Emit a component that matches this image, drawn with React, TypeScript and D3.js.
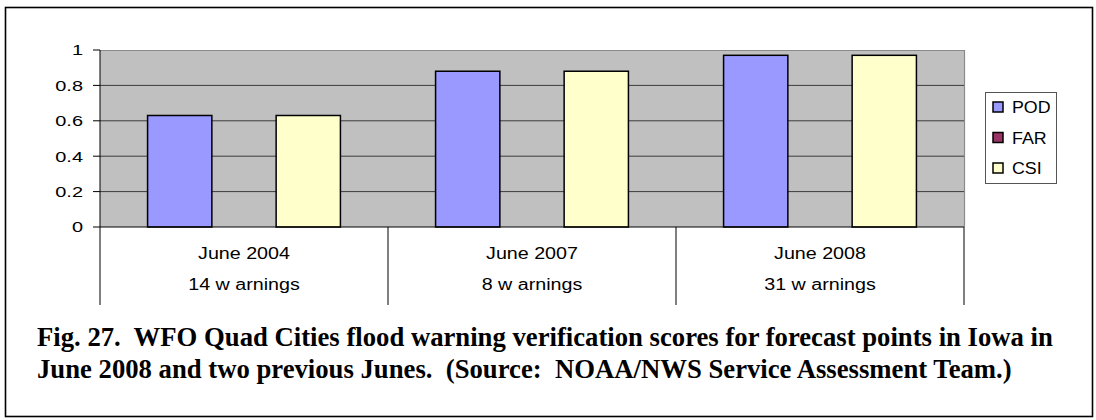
import React from "react";
import * as d3 from "d3";

const categories = ["June 2004", "June 2007", "June 2008"];
const warningLabels = ["14 w arnings", "8 w arnings", "31 w arnings"];
const seriesNames = ["POD", "FAR", "CSI"];
const podValues = [0.63, 0.88, 0.97];
const farValues = [0, 0, 0];
const csiValues = [0.63, 0.88, 0.97];
const yTicks = [0, 0.2, 0.4, 0.6, 0.8, 1];
const seriesColors = ["#9999ff", "#993366", "#ffffcc"];
const captionLines = [
  "Fig. 27.  WFO Quad Cities flood warning verification scores for forecast points in Iowa in",
  "June 2008 and two previous Junes.  (Source:  NOAA/NWS Service Assessment Team.)",
];

const W = 1096;
const H = 420;
const plot = { left: 100, right: 964, top: 50, bottom: 227 };

export default function App() {
  const x0 = d3
    .scaleBand<string>()
    .domain(categories)
    .range([plot.left, plot.right])
    .paddingInner(0)
    .paddingOuter(0);
  const x1 = d3
    .scaleBand<string>()
    .domain(seriesNames)
    .range([0, x0.bandwidth()])
    .paddingInner(0)
    .paddingOuter(0.74);
  const y = d3.scaleLinear().domain([0, 1]).range([plot.bottom, plot.top]);
  const seriesValues = [podValues, farValues, csiValues];

  const sans = "'Liberation Sans', Arial, sans-serif";
  const serif = "'Liberation Serif', 'Times New Roman', serif";

  return (
    <svg
      width={W}
      height={H}
      style={{ position: "absolute", left: 0, top: 0, display: "block" }}
    >
      <rect x={0} y={0} width={W} height={H} fill="#fff" />
      <rect
        x={5.5}
        y={7.5}
        width={1087}
        height={409}
        fill="none"
        stroke="#000"
        strokeWidth={1.6}
      />
      {/* plot area */}
      <rect
        x={plot.left}
        y={plot.top}
        width={plot.right - plot.left}
        height={plot.bottom - plot.top}
        fill="#c0c0c0"
      />
      <line x1={plot.left} x2={plot.right} y1={plot.top + 0.5} y2={plot.top + 0.5} stroke="#8a8a8a" strokeWidth={1.2} />
      <line x1={plot.right + 0.5} x2={plot.right + 0.5} y1={plot.top} y2={plot.bottom} stroke="#8a8a8a" strokeWidth={1.2} />
      {yTicks
        .filter((t) => t > 0 && t < 1)
        .map((t) => (
          <line
            key={"g" + t}
            x1={plot.left}
            x2={plot.right}
            y1={y(t)}
            y2={y(t)}
            stroke="#3c3c3c"
            strokeWidth={1}
          />
        ))}
      {/* bars */}
      {categories.map((c, ci) => (
        <g key={c}>
          {seriesNames.map((s, si) => {
            const v = seriesValues[si][ci];
            if (v <= 0) return null;
            const bx = (x0(c) as number) + (x1(s) as number);
            return (
              <rect
                key={s}
                x={bx}
                y={y(v)}
                width={x1.bandwidth()}
                height={y(0) - y(v)}
                fill={seriesColors[si]}
                stroke="#000"
                strokeWidth={1.5}
              />
            );
          })}
        </g>
      ))}
      {/* y axis */}
      <line x1={plot.left} x2={plot.left} y1={plot.top} y2={plot.bottom} stroke="#000" strokeWidth={1} />
      {yTicks.map((t) => (
        <g key={"t" + t}>
          <line x1={plot.left - 7} x2={plot.left} y1={y(t)} y2={y(t)} stroke="#000" strokeWidth={1} />
          <text
            transform={`translate(83,${y(t) + 5.3}) scale(1.33,1)`}
            textAnchor="end"
            fontFamily={sans}
            fontSize={15}
            fill="#000"
          >
            {d3.format("")(t)}
          </text>
        </g>
      ))}
      {/* x axis */}
      <line x1={plot.left} x2={plot.right} y1={plot.bottom} y2={plot.bottom} stroke="#000" strokeWidth={1} />
      {[...categories.map((c) => x0(c) as number), plot.right].map((bx, i) => (
        <line key={"sep" + i} x1={bx} x2={bx} y1={plot.bottom} y2={305} stroke="#000" strokeWidth={1} />
      ))}
      {categories.map((c, ci) => {
        const cx = (x0(c) as number) + x0.bandwidth() / 2;
        return (
          <g key={"lab" + c}>
            <text
              transform={`translate(${cx},259) scale(1.23,1)`}
              textAnchor="middle"
              fontFamily={sans}
              fontSize={16}
              fill="#000"
            >
              {c}
            </text>
            <text
              transform={`translate(${cx},290) scale(1.23,1)`}
              textAnchor="middle"
              fontFamily={sans}
              fontSize={16}
              fill="#000"
              style={{ whiteSpace: "pre" }}
            >
              {warningLabels[ci]}
            </text>
          </g>
        );
      })}
      {/* legend */}
      <rect x={985.5} y={92.5} width={71} height={91} fill="#fff" stroke="#555" strokeWidth={1} />
      {seriesNames.map((s, si) => {
        const ly = 107 + si * 30.5;
        return (
          <g key={"leg" + s}>
            <rect x={993} y={ly - 5} width={10} height={10} fill={seriesColors[si]} stroke="#000" strokeWidth={1.5} />
            <text
              transform={`translate(1012,${ly + 6}) scale(1.08,1)`}
              fontFamily={sans}
              fontSize={16.5}
              fill="#000"
            >
              {s}
            </text>
          </g>
        );
      })}
      {/* caption */}
      {captionLines.map((line, i) => (
        <text
          key={"cap" + i}
          x={37}
          y={346 + i * 32}
          fontFamily={serif}
          fontWeight="bold"
          fontSize={26.7}
          fill="#000"
          style={{ whiteSpace: "pre" }}
        >
          {line}
        </text>
      ))}
    </svg>
  );
}
